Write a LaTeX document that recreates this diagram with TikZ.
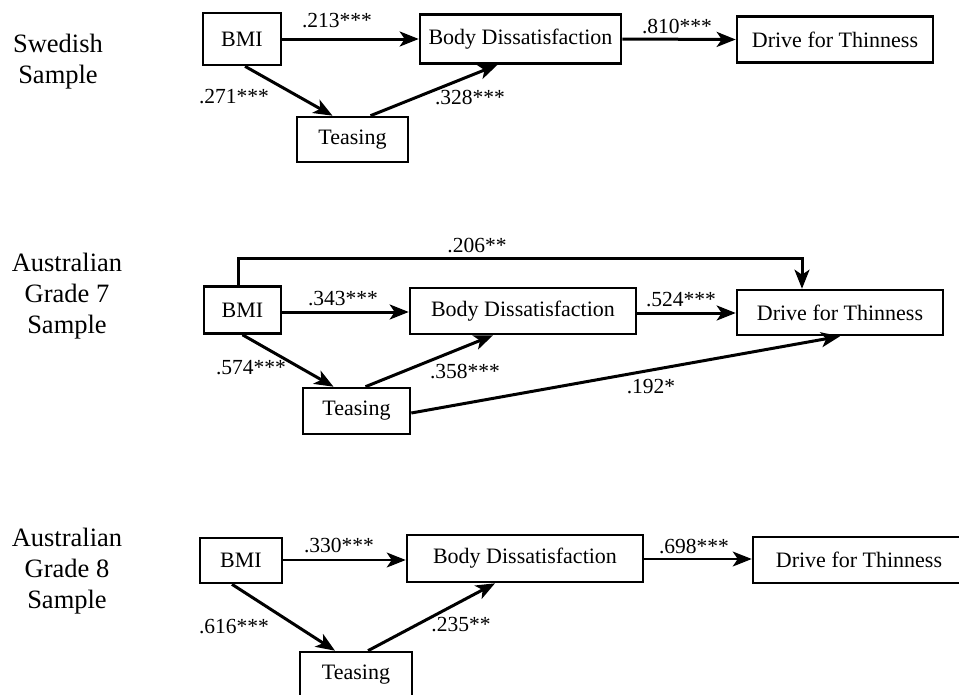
\documentclass[tikz,border=0pt]{standalone}
\usepackage{fontspec}
\setmainfont{Liberation Serif}
\usetikzlibrary{arrows.meta,calc}
\begin{document}
\begin{tikzpicture}[x=1pt,y=-1pt,
  box/.style={draw,line width=2.6pt,inner sep=0pt,font=\fontsize{22}{24}\selectfont},
  coef/.style={inner sep=0pt,font=\fontsize{21.5}{24}\selectfont},
  side/.style={align=center,inner sep=0pt,font=\fontsize{26.5}{31}\selectfont},
  arr/.style={line width=3pt,-{Stealth[length=19pt,width=15pt,inset=5pt]}},
  thinarr/.style={line width=1.8pt,-{Stealth[length=19pt,width=15pt,inset=5pt]}}]
\useasboundingbox (0,0) rectangle (959,694);
\clip (0,0) rectangle (959,694);
% ---------- Panel 1: Swedish ----------
\node[side] (sideA) at (58,62) {Swedish\\Sample};
\node[box,minimum width=78pt,minimum height=52pt] (bmiA) at (242,39) {BMI};
\node[box,minimum width=201pt,minimum height=49pt] (bdA) at (520.5,39) {Body Dissatisfaction};
\node[box,minimum width=196pt,minimum height=46pt] (dftA) at (835,39.5) {Drive for Thinness};
\node[box,minimum width=111pt,minimum height=45pt] (teaA) at (352.5,139.5) {Teasing};
\draw[arr] (bmiA.east) -- (bdA.west);
\draw[arr] (bdA.east) -- (dftA.west);
\draw[arr] ($(bmiA.south)+(3,0)$) -- ($(teaA.north)+(-20,0)$);
\draw[arr] ($(teaA.north)+(18,0)$) -- ($(bdA.south)+(-23,0)$);
\node[coef] (cA1) at (337,21) {.213***};
\node[coef] (cA2) at (677,27) {.810***};
\node[coef] (cA3) at (234,97) {.271***};
\node[coef] (cA4) at (470,97) {.328***};
% ---------- Panel 2: Australian Grade 7 ----------
\node[side] (sideB) at (67,296) {Australian\\Grade 7\\Sample};
\node[box,minimum width=77pt,minimum height=47pt] (bmiB) at (242.5,310) {BMI};
\node[box,minimum width=226pt,minimum height=46pt] (bdB) at (523,311) {Body Dissatisfaction};
\node[box,minimum width=206pt,minimum height=45pt] (dftB) at (840,312.5) {Drive for Thinness};
\node[box,minimum width=107pt,minimum height=46pt] (teaB) at (356.5,411) {Teasing};
\coordinate (topB) at (520,258);
\draw[arr] ($(bmiB.north)+(-4,0)$) |- (topB) -| ($(dftB.north)+(-38,0)$);
\draw[arr] (bmiB.east |- 0,312) -- (bdB.west |- 0,312);
\draw[arr] (bdB.east |- 0,313) -- (dftB.west |- 0,313);
\draw[arr] ($(bmiB.south)+(0,0)$) -- ($(teaB.north)+(-23,0)$);
\draw[arr] ($(teaB.north)+(9,0)$) -- ($(bdB.south)+(-30,0)$);
\draw[arr] ($(teaB.east)+(0,2)$) -- (dftB.south);
\node[coef] (cB1) at (477,245) {.206**};
\node[coef] (cB2) at (343,299) {.343***};
\node[coef] (cB3) at (681,300) {.524***};
\node[coef] (cB4) at (251,368) {.574***};
\node[coef] (cB5) at (465,371) {.358***};
\node[coef] (cB6) at (651,387) {.192*};
% ---------- Panel 3: Australian Grade 8 ----------
\node[side] (sideC) at (67,571) {Australian\\Grade 8\\Sample};
\node[box,minimum width=82pt,minimum height=45pt] (bmiC) at (241,560.5) {BMI};
\node[box,minimum width=236pt,minimum height=47pt] (bdC) at (525,558.5) {Body Dissatisfaction};
\node[box,minimum width=212pt,minimum height=46pt] (dftC) at (859,560) {Drive for Thinness};
\node[box,minimum width=112pt,minimum height=46pt] (teaC) at (356,675) {Teasing};
\draw[thinarr] (bmiC.east |- 0,560) -- (bdC.west |- 0,560);
\draw[thinarr] (bdC.east |- 0,559) -- (dftC.west |- 0,559);
\draw[arr] ($(bmiC.south)+(-9,0)$) -- ($(teaC.north)+(-21,0)$);
\draw[arr] ($(teaC.north)+(12,0)$) -- ($(bdC.south)+(-30,0)$);
\node[coef] (cC1) at (339,545) {.330***};
\node[coef] (cC2) at (694,546) {.698***};
\node[coef] (cC3) at (234,627) {.616***};
\node[coef] (cC4) at (461,625) {.235**};
\end{tikzpicture}
\end{document}
